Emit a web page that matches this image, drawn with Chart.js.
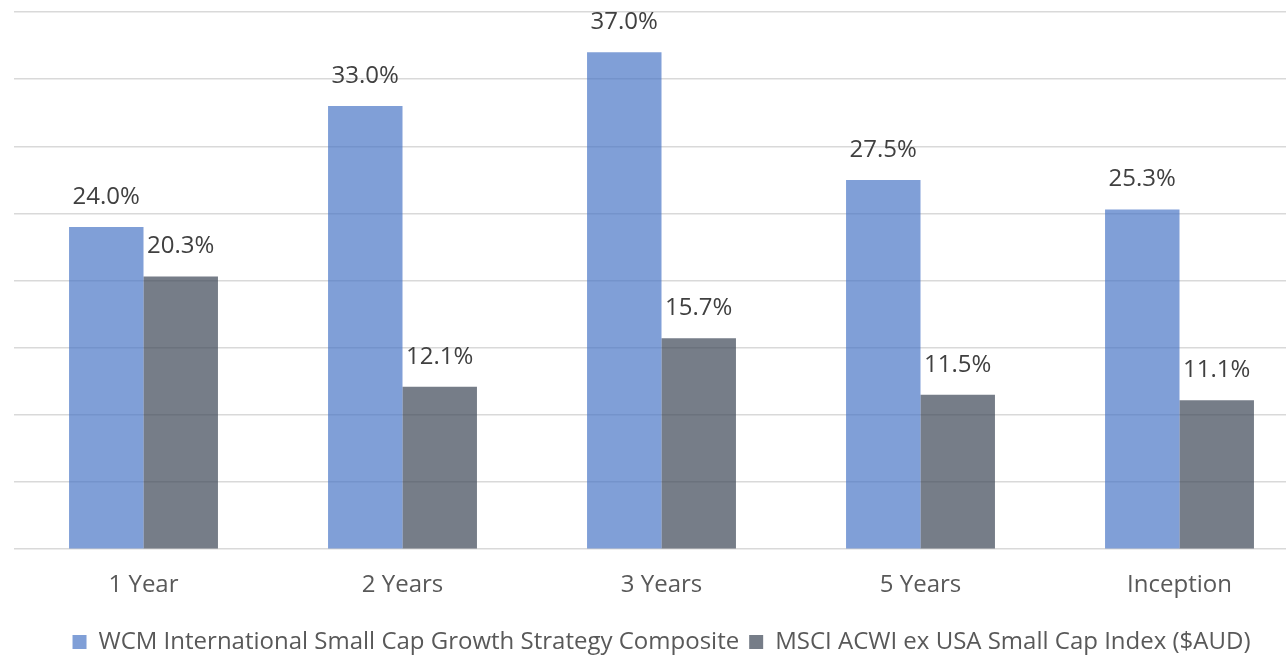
<!DOCTYPE html>
<html>
<head>
<meta charset="utf-8">
<script src="https://cdn.jsdelivr.net/npm/chart.js@4.4.1/dist/chart.umd.min.js"></script>
<style>
  html, body { margin: 0; padding: 0; background: #fff; overflow: hidden; }
  #wrap { position: relative; width: 1316px; height: 664px; }
</style>
</head>
<body>
<div id="wrap"><canvas id="returnsChart"></canvas></div>
<script>
const periods = ['1 Year', '2 Years', '3 Years', '5 Years', 'Inception'];
const seriesNames = [
  'WCM International Small Cap Growth Strategy Composite',
  'MSCI ACWI ex USA Small Cap Index ($AUD)'
];
const wcmReturns = [24.0, 33.0, 37.0, 27.5, 25.3];
const msciReturns = [20.3, 12.1, 15.7, 11.5, 11.1];

const FONT = '"Open Sans", sans-serif';
const FONT_SIZE = 24;

// draws the % value above each bar
const valueLabels = {
  id: 'valueLabels',
  afterDatasetsDraw(chart) {
    const ctx = chart.ctx;
    ctx.save();
    ctx.font = FONT_SIZE + 'px ' + FONT;
    ctx.fillStyle = '#404040';
    ctx.textAlign = 'center';
    ctx.textBaseline = 'middle';
    chart.data.datasets.forEach((ds, i) => {
      chart.getDatasetMeta(i).data.forEach((bar, j) => {
        ctx.fillText(ds.data[j].toFixed(1) + '%', bar.x, bar.y - 30);
      });
    });
    ctx.restore();
  }
};

new Chart(document.getElementById('returnsChart').getContext('2d'), {
  type: 'bar',
  data: {
    labels: periods,
    datasets: [
      {
        label: seriesNames[0],
        data: wcmReturns,
        backgroundColor: 'rgba(68, 114, 196, 0.68)'
      },
      {
        label: seriesNames[1],
        data: msciReturns,
        backgroundColor: 'rgba(60, 70, 86, 0.7)'
      }
    ]
  },
  options: {
    responsive: true,
    maintainAspectRatio: false,
    animation: false,
    layout: { padding: { left: 14, right: 7, top: 12, bottom: 0 } },
    datasets: {
      bar: { categoryPercentage: 0.575, barPercentage: 1 }
    },
    scales: {
      x: {
        grid: { display: false },
        border: { display: false },
        ticks: { color: '#595959', font: { family: FONT, size: FONT_SIZE }, padding: 14 },
        // extra room between the period labels and the legend
        afterFit(scale) { scale.height += 6; }
      },
      y: {
        min: 0,
        max: 40,
        ticks: { display: false, stepSize: 5 },
        border: { display: false },
        grid: { color: '#d9d9d9', lineWidth: 1.5, drawTicks: false }
      }
    },
    plugins: {
      legend: {
        position: 'bottom',
        labels: {
          color: '#595959',
          font: { family: FONT, size: FONT_SIZE },
          boxWidth: 14,
          boxHeight: 14,
          padding: 10
        }
      },
      tooltip: { enabled: false }
    }
  },
  plugins: [valueLabels]
});
</script>
</body>
</html>
